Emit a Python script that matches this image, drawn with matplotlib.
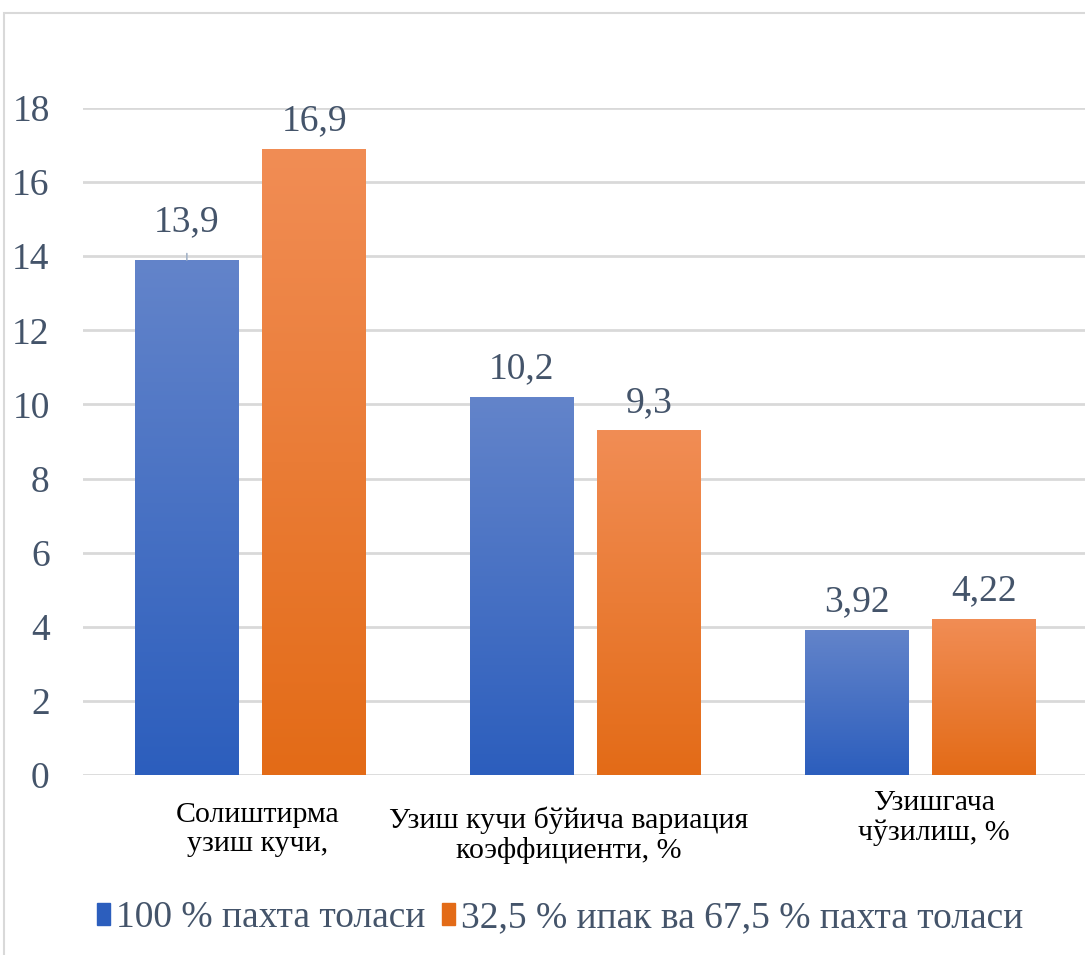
import matplotlib.pyplot as plt
import matplotlib.patches as mpatches
import matplotlib.colors as mcolors
import matplotlib.transforms as mtransforms
import numpy as np

categories = [
    "Солиштирма\nузиш кучи,",
    "Узиш кучи бўйича вариация\nкоэффициенти, %",
    "Узишгача\nчўзилиш, %",
]
series_names = [
    "100 % пахта толаси",
    "32,5 % ипак ва 67,5 % пахта толаси",
]
cotton = [13.9, 10.2, 3.92]
silk_cotton = [16.9, 9.3, 4.22]
value_labels = [["13,9", "10,2", "3,92"], ["16,9", "9,3", "4,22"]]
yticks = [0, 2, 4, 6, 8, 10, 12, 14, 16, 18]

FONT = "Liberation Serif"
TEXT = "#44546A"
GRID = "#D9D9D9"
gradients = [("#6384CA", "#2C5EBD"), ("#F18D55", "#E36B17")]

fig = plt.figure(figsize=(10.85, 9.55), dpi=100)
fig.patches.append(mpatches.Rectangle(
    (4 / 1085, -0.01), 1.1, 1 - 13 / 955 + 0.01, transform=fig.transFigure,
    fill=False, edgecolor=GRID, linewidth=1.5, zorder=0))

ax = fig.add_axes([83 / 1085, 1 - 775 / 955, 1005 / 1085, (775 - 108) / 955])
x = np.arange(len(categories))
width = 0.31
offsets = [-0.19, 0.19]

for i, (vals, (top_c, bot_c)) in enumerate(zip([cotton, silk_cotton], gradients)):
    bars = ax.bar(x + offsets[i], vals, width, color=bot_c, zorder=2,
                  label=series_names[i])
    cmap = mcolors.LinearSegmentedColormap.from_list("g", [bot_c, top_c])
    for b in bars:
        x0, y0 = b.get_x(), b.get_y()
        w, h = b.get_width(), b.get_height()
        im = ax.imshow(np.linspace(0, 1, 256).reshape(-1, 1), cmap=cmap,
                       aspect="auto", origin="lower",
                       extent=(x0, x0 + w, y0, y0 + h), zorder=2.5)
        im.set_clip_path(b)

    for j, (v, lbl) in enumerate(zip(vals, value_labels[i])):
        if i == 0 and j == 0:
            # label lifted above the bar with a short leader line
            ax.annotate(lbl, xy=(x[j] + offsets[i], v), xytext=(0, 27),
                        textcoords="offset points", ha="center", va="center",
                        fontsize=27, color=TEXT, family=FONT,
                        arrowprops=dict(arrowstyle="-", color="#A5B4C8",
                                        lw=1.2, shrinkA=8, shrinkB=0))
        else:
            ax.annotate(lbl, xy=(x[j] + offsets[i], v), xytext=(0, 20),
                        textcoords="offset points", ha="center", va="center",
                        fontsize=27, color=TEXT, family=FONT)

ax.set_xlim(-0.5, 2.5)
ax.set_ylim(0, 18)
ax.set_yticks(yticks)
ax.set_yticklabels([str(t) for t in yticks], fontsize=27, color=TEXT, family=FONT)
ax.tick_params(axis="y", length=0, pad=24)
ax.set_xticks([])
ax.yaxis.grid(True, color=GRID, linewidth=2)
ax.set_axisbelow(True)
for s in ax.spines.values():
    s.set_visible(False)

# category captions under the axis, each placed individually
cat_trans = mtransforms.blended_transform_factory(ax.transData, fig.transFigure)
cat_pos = [(0.02, 802), (-0.05, 806), (0.04, 790)]
for (dx, ypix), cat, xc in zip(cat_pos, categories, x):
    ax.text(xc + dx, 1 - ypix / 955, cat, transform=cat_trans,
            ha="center", va="top", fontsize=21.5, color="black",
            family=FONT, linespacing=1.15)

leg = fig.legend(loc="center", bbox_to_anchor=(0.516, 1 - 918 / 955), ncol=2,
                 frameon=False, prop=dict(family=FONT, size=27),
                 handlelength=0.35, handleheight=0.55,
                 handletextpad=0.15, columnspacing=0.45, labelcolor=TEXT)
for h, (top_c, bot_c) in zip(leg.legend_handles, gradients):
    h.set_color(bot_c)

fig.savefig("out.png", dpi=100)
